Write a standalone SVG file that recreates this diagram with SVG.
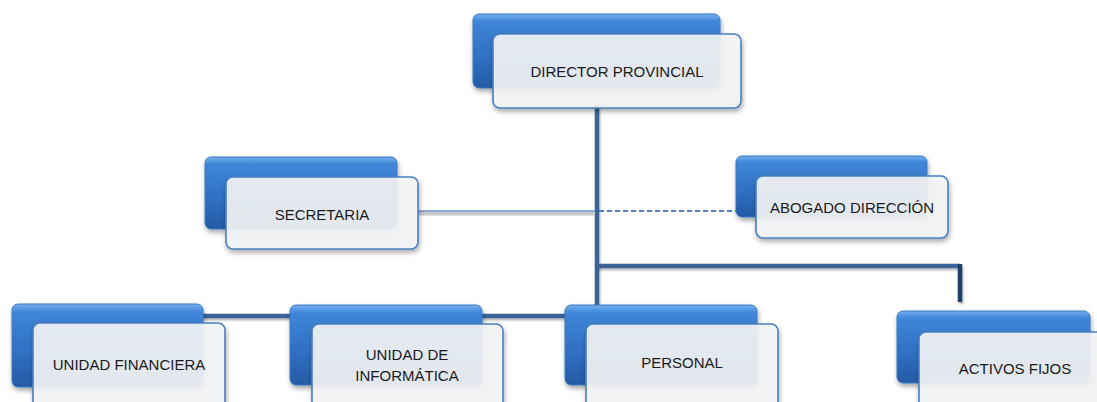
<svg xmlns="http://www.w3.org/2000/svg" width="1097" height="402" viewBox="0 0 1097 402">
<defs>
<linearGradient id="blue" x1="0" y1="0" x2="0" y2="1">
<stop offset="0" stop-color="#75b0ee"/>
<stop offset="0.1" stop-color="#3f86d8"/>
<stop offset="0.6" stop-color="#2f6fc2"/>
<stop offset="1" stop-color="#245aa5"/>
</linearGradient>
<filter id="sh" x="-10%" y="-10%" width="125%" height="135%">
<feDropShadow dx="1" dy="3" stdDeviation="2.5" flood-color="#000" flood-opacity="0.35"/>
</filter>
<filter id="lsh" filterUnits="userSpaceOnUse" x="0" y="0" width="1097" height="402">
<feDropShadow dx="1" dy="2" stdDeviation="1.2" flood-color="#000" flood-opacity="0.3"/>
</filter>
</defs>
<style>
.back{fill:url(#blue);stroke:#3b78c0;stroke-width:1;filter:url(#sh)}
.front{fill:#f4f5f7;fill-opacity:0.9;stroke:#4a7fc0;stroke-width:1.6;filter:url(#sh)}
.lbl{font-family:"Liberation Sans",Arial,sans-serif;font-size:15px;fill:#1a1a1a;text-anchor:middle}
.conn{stroke:#3a6598;stroke-width:4.5;fill:none;filter:url(#lsh)}
</style>
<rect width="1097" height="402" fill="#ffffff"/>
<g id="connectors">
<line class="conn" x1="597" y1="105" x2="597" y2="306"/>
<path class="conn" d="M597 266 H960"/>
<line x1="960" y1="264" x2="960" y2="302" stroke="#1f3f6b" stroke-width="4.5" filter="url(#lsh)"/>
<path class="conn" d="M200 316 H567"/>
<line x1="418" y1="213.5" x2="595" y2="213.5" stroke="#c8c8c8" stroke-width="4"/>
<line x1="418" y1="211" x2="595" y2="211" stroke="#6a95cc" stroke-width="1.5"/>
<line x1="599" y1="211" x2="738" y2="211" stroke="#4a7fc0" stroke-width="2" stroke-dasharray="5,3"/>
</g>
<g id="director">
<rect class="back" x="473" y="14" width="247" height="74" rx="6"/>
<rect class="front" x="493" y="34" width="248" height="74" rx="7"/>
<text class="lbl" x="617" y="77">DIRECTOR PROVINCIAL</text>
</g>
<g id="secretaria">
<rect class="back" x="205" y="157" width="192" height="72" rx="6"/>
<rect class="front" x="226" y="177" width="192" height="72" rx="7"/>
<text class="lbl" x="322" y="220">SECRETARIA</text>
</g>
<g id="abogado">
<rect class="back" x="736" y="156" width="191" height="61" rx="6"/>
<rect class="front" x="756" y="176" width="192" height="62" rx="7"/>
<text class="lbl" x="852" y="213">ABOGADO DIRECCIÓN</text>
</g>
<g id="financiera">
<rect class="back" x="12" y="304" width="191" height="83" rx="6"/>
<rect class="front" x="33" y="323" width="192" height="90" rx="7"/>
<text class="lbl" x="129" y="370">UNIDAD FINANCIERA</text>
</g>
<g id="informatica">
<rect class="back" x="290" y="305" width="192" height="80" rx="6"/>
<rect class="front" x="312" y="324" width="191" height="90" rx="7"/>
<text class="lbl" x="407" y="360">UNIDAD DE</text>
<text class="lbl" x="407" y="381">INFORMÁTICA</text>
</g>
<g id="personal">
<rect class="back" x="565" y="305" width="192" height="80" rx="6"/>
<rect class="front" x="586" y="324" width="192" height="90" rx="7"/>
<text class="lbl" x="682" y="368">PERSONAL</text>
</g>
<g id="activos">
<rect class="back" x="897" y="311" width="193" height="72" rx="6"/>
<rect class="front" x="919" y="332" width="192" height="80" rx="7"/>
<text class="lbl" x="1015" y="374">ACTIVOS FIJOS</text>
</g>
</svg>
